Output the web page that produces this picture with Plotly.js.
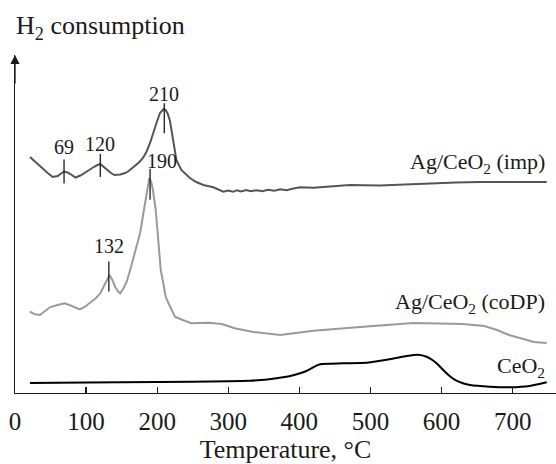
<!DOCTYPE html>
<html>
<head>
<meta charset="utf-8">
<script src="https://cdn.plot.ly/plotly-3.0.1.min.js"></script>
<style>html,body{margin:0;padding:0;background:#fff;}#chart{width:556px;height:464px;}</style>
</head>
<body>
<div id="chart"></div>
<script>
// ---- data (temperature °C, H2 consumption a.u., curves offset vertically) ----
const impT = [21,30,39,46,53,60,65,69,74,78,85,92,100,106,112,116,120,125,130,135,140,148,155,160,165,170,175,180,185,190,194,199,204,209,212,215,218,222,227,234,240,246,255,265,279,286,293,300,307,312,318,325,332,340,348,356,365,373,382,390,401,420,448,471,513,550,584,620,654,700,748];
const impY = [236,230,225,220,216,217,219.5,221.5,220.5,219,215.5,217.5,221,224,226.5,228,229,226,223,220,218,218.5,220,222,225,228,231,235,241.3,250,260,270,280,284,283,279,272,253,233,223,219,215,211,208,205.7,203.5,201.3,202.5,201.2,202.8,201.5,203,201.8,202.8,201.8,203.2,202.2,203.8,202.8,204.2,205.7,205.2,207,208,207.5,208.5,210,210.5,211,211,211];

const codpT = [21,27,35,42,49,60,70,80,91,98,108,114,120,126,133,137,141,145,148,152,157,162,169,176,183,186,189,192,194,198,201,205,208,212,216,220,225,236,248,272,291,309,335,373,420,490,560,630,660,678,695,710,730,748];
const codpY = [81.3,79,78,81.5,85.7,88,89.7,87,83.7,86,91.3,95,99.7,108,118,113,106,101.5,99.7,104,111,123,143,160,190,205,215,210,203,183,160,123,112,96,89.7,83,76.3,73,69.7,70.3,69,64.7,61,58,62.3,66.3,70,69,67,63,58,55,51,50];

const ceT = [21,100,200,300,330,355,377,390,401,410,417,424,431,445,462,495,527,551,567,579,586,593,600,607,614,621,630,640,668,696,724,748];
const ceY = [10,10.5,11,11.8,12.3,13.5,15.7,17.5,19.7,22,24.7,27.3,29,29.3,29.7,30.3,33.7,37,38.3,36.3,33.5,29.7,24.7,19.7,15.5,12.3,9.8,8,6.3,5.7,7,10.7];

const seriesNames = ["Ag/CeO<sub>2</sub> (imp)", "Ag/CeO<sub>2</sub> (coDP)", "CeO<sub>2</sub>"];
const xTicks = [0,100,200,300,400,500,600,700];
const xTickLabels = ["0","100","200","300","400","500","600","700"];

// peak labels
const impPeaks = [69,120,210];
const codpPeaks = [132,190];

// ---- helpers ----
function interp(xs, ys, x){
  for(let i=0;i<xs.length-1;i++){
    if(x>=xs[i] && x<=xs[i+1]){
      const t=(x-xs[i])/(xs[i+1]-xs[i]);
      return ys[i]+t*(ys[i+1]-ys[i]);
    }
  }
  return ys[ys.length-1];
}

const FONT = "Liberation Serif";
const INK = "#1a1a1a";

// peak marker styling: [up, down, labelDy, labelDx]
const impStyle = [[12,12,25,0],[10,13,22,0],[6,24,21,0]];
const codpStyle = [[15,15,27,0],[11,20,20,17]];

const tickX=[], tickY=[];
const annotations=[];
function addPeaks(peaks, xs, ys, style){
  peaks.forEach((p,i)=>{
    const v=interp(xs,ys,p);
    const s=style[i];
    tickX.push(p,p,null); tickY.push(v+s[0], v-s[1], null);
    annotations.push({x:p+s[3], y:v+s[0]+s[2]-12, text:String(p), showarrow:false,
      xanchor:'center', yanchor:'middle', font:{family:FONT,size:20,color:INK}});
  });
}
addPeaks(impPeaks, impT, impY, impStyle);
addPeaks(codpPeaks, codpT, codpY, codpStyle);

// curve labels
const lastX = impT[impT.length-1];
annotations.push({x:lastX, y:230, text:seriesNames[0], showarrow:false, xanchor:'right', yanchor:'middle', font:{family:FONT,size:22,color:INK}});
annotations.push({x:lastX, y:90, text:seriesNames[1], showarrow:false, xanchor:'right', yanchor:'middle', font:{family:FONT,size:22,color:INK}});
annotations.push({x:lastX, y:26, text:seriesNames[2], showarrow:false, xanchor:'right', yanchor:'middle', font:{family:FONT,size:22,color:INK}});

// y-axis arrow
annotations.push({x:0, y:338, ax:0, ay:30, axref:'pixel', ayref:'pixel', text:'', showarrow:true,
  arrowhead:2, arrowsize:1.4, arrowwidth:1.3, arrowcolor:INK});

const traces = [
  {x:impT, y:impY, mode:'lines', line:{color:'#555555', width:2}, name:seriesNames[0], hoverinfo:'skip'},
  {x:codpT, y:codpY, mode:'lines', line:{color:'#9a9a9a', width:2}, name:seriesNames[1], hoverinfo:'skip'},
  {x:ceT, y:ceY, mode:'lines', line:{color:'#000000', width:2, shape:'spline', smoothing:0.5}, name:seriesNames[2], hoverinfo:'skip'},
  {x:tickX, y:tickY, mode:'lines', line:{color:INK, width:1.3}, hoverinfo:'skip', connectgaps:false}
];

const layout = {
  width:556, height:464,
  margin:{l:15, r:0, t:55, b:71, pad:0},
  paper_bgcolor:'#ffffff', plot_bgcolor:'#ffffff',
  showlegend:false,
  font:{family:FONT, color:INK},
  title:{text:'H<sub>2</sub> consumption', x:16/556, xref:'container', xanchor:'left', y:1-25/464, yref:'container', yanchor:'middle',
    font:{family:FONT, size:26, color:INK}},
  xaxis:{range:[0,761], tickvals:xTicks, ticktext:xTickLabels, ticks:'inside', ticklen:6, tickwidth:1.3, tickcolor:INK,
    showline:true, linecolor:INK, linewidth:1.3, showgrid:false, zeroline:false,
    tickfont:{family:FONT, size:25, color:INK}, ticklabelstandoff:6,
    title:{text:'Temperature, °C', font:{family:FONT, size:26, color:INK}, standoff:8}},
  yaxis:{range:[0,338], showline:true, linecolor:INK, linewidth:1.3, showticklabels:false, ticks:'', showgrid:false, zeroline:false},
  annotations:annotations
};

Plotly.newPlot('chart', traces, layout, {staticPlot:true, displayModeBar:false});
</script>
</body>
</html>
